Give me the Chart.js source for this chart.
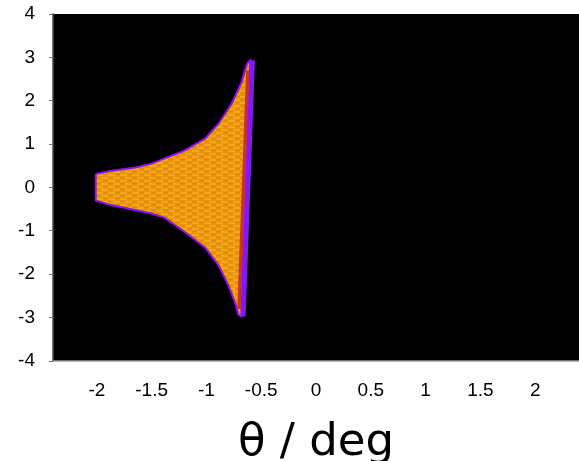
<!DOCTYPE html>
<html>
<head>
<meta charset="utf-8">
<script src="https://cdn.jsdelivr.net/npm/chart.js@4.4.1/dist/chart.umd.min.js"></script>
<style>
  html, body { margin: 0; padding: 0; background: #fff; }
  #map { display: block; }
</style>
</head>
<body>
<canvas id="map" width="579" height="461"></canvas>
<script>
// outline of the bright region: upper edge left->right, then lower edge right->left
const edgeTheta = [-2.01, -1.88, -1.65, -1.50, -1.38, -1.20, -1.01, -0.89, -0.77, -0.68, -0.63, -0.60,
                   -0.68, -0.71, -0.73, -0.80, -0.89, -1.01, -1.20, -1.38, -1.50, -1.65, -1.88, -2.01, -2.01];
const edgeY = [0.31, 0.38, 0.46, 0.55, 0.67, 0.85, 1.13, 1.47, 1.93, 2.42, 2.85, 2.93,
               -2.97, -2.93, -2.71, -2.25, -1.79, -1.39, -1.02, -0.70, -0.60, -0.52, -0.40, -0.30, 0.31];
// steep right side: violet rim and the darker strip just inside it
const rimTheta = [-0.58, -0.665];
const rimY = [2.93, -2.97];
const innerTheta = [-0.62, -0.70];
const innerY = [2.7, -2.8];
const xTicks = [-2, -1.5, -1, -0.5, 0, 0.5, 1, 1.5, 2];
const yTicks = [-4, -3, -2, -1, 0, 1, 2, 3, 4];

function pts(xs, ys) {
  return xs.map((x, i) => ({x: x, y: ys[i]}));
}

// mottled orange fill
function mottle() {
  const c = document.createElement('canvas');
  c.width = 12; c.height = 6;
  const g = c.getContext('2d');
  g.fillStyle = '#ea940e'; g.fillRect(0, 0, 12, 6);
  g.fillStyle = '#f2a81a'; g.fillRect(0, 0, 7, 2); g.fillRect(5, 3, 7, 2);
  g.fillStyle = '#e0840a'; g.fillRect(7, 0, 5, 1); g.fillRect(0, 3, 5, 1);
  return g.createPattern(c, 'repeat');
}

const plotBg = {
  id: 'plotBg',
  beforeDraw(chart) {
    const {ctx, chartArea: a} = chart;
    ctx.save();
    ctx.fillStyle = '#000';
    ctx.fillRect(a.left, a.top, a.right - a.left, a.bottom - a.top);
    ctx.restore();
  }
};

const tickFont = {family: 'Liberation Sans', size: 19};

new Chart(document.getElementById('map'), {
  type: 'scatter',
  data: {
    datasets: [{
      data: pts(rimTheta, rimY),
      showLine: true,
      borderColor: '#8a12ff',
      borderWidth: 5,
      pointRadius: 0
    }, {
      data: pts(innerTheta, innerY),
      showLine: true,
      borderColor: '#c43a02',
      borderWidth: 4,
      pointRadius: 0
    }, {
      data: pts(edgeTheta, edgeY),
      showLine: true,
      fill: 'shape',
      backgroundColor: mottle(),
      borderColor: '#8a12ff',
      borderWidth: 2,
      pointRadius: 0,
      tension: 0
    }]
  },
  options: {
    responsive: false,
    animation: false,
    devicePixelRatio: 1,
    layout: {padding: {top: 14, right: 0, left: 0, bottom: 0}},
    plugins: {legend: {display: false}, tooltip: {enabled: false}},
    scales: {
      x: {
        type: 'linear',
        min: -2.4,
        max: 2.4,
        afterBuildTicks: s => { s.ticks = xTicks.map(v => ({value: v})); },
        grid: {display: false, drawTicks: false},
        border: {display: true, color: '#777', width: 1.5},
        ticks: {color: '#000', font: tickFont, padding: 18, maxRotation: 0, autoSkip: false,
                callback: v => String(v)},
        title: {
          display: true,
          text: 'θ / deg',
          color: '#000',
          font: {family: 'DejaVu Sans', size: 45, lineHeight: 0.8},
          padding: 0
        },
        afterFit: s => { s.height = 100; s.paddingLeft = 0; s.paddingRight = 0; }
      },
      y: {
        min: -4,
        max: 4,
        afterBuildTicks: s => { s.ticks = yTicks.map(v => ({value: v})); },
        grid: {drawOnChartArea: false, tickLength: 4, color: '#777'},
        border: {display: true, color: '#777', width: 1.5},
        ticks: {color: '#000', font: tickFont, padding: 14, callback: v => String(v)},
        afterFit: s => { s.width = 53; s.paddingTop = 0; s.paddingBottom = 0; }
      }
    }
  },
  plugins: [plotBg]
});
</script>
</body>
</html>
